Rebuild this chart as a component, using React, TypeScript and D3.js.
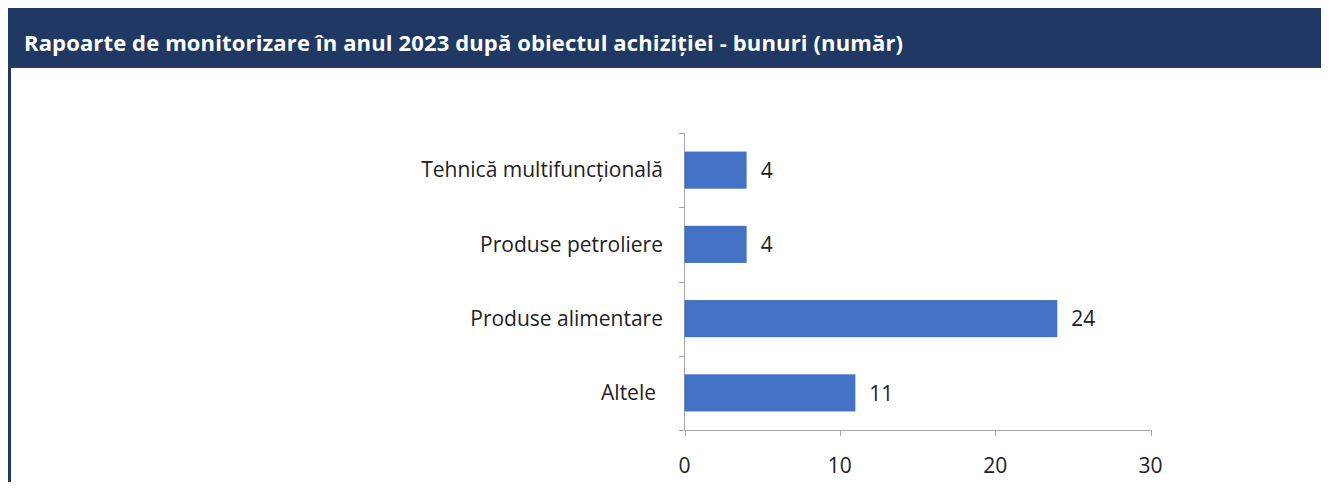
import React from 'react';
import * as d3 from 'd3';

const title = 'Rapoarte de monitorizare în anul 2023 după obiectul achiziției - bunuri (număr)';
const categories = ['Tehnică multifuncțională', 'Produse petroliere', 'Produse alimentare', 'Altele'];
const values = [4, 4, 24, 11];
const xTicks = [0, 10, 20, 30];

const W = 1329;
const H = 490;
const FONT = '"Open Sans", sans-serif';

const App = () => {
    const x = d3.scaleLinear().domain([0, 30]).range([684.5, 1150.5]);
    const y = d3.scaleBand().domain(categories).range([133, 430]).paddingInner(0.5).paddingOuter(0.25);
    const bandEdges = d3.range(categories.length + 1).map(i => 133 + (i * (430 - 133)) / categories.length);

    return (
        <svg width={W} height={H} style={{ display: 'block', margin: -8 }}>
            <rect x={0} y={0} width={W} height={H} fill="#fff" />
            <rect x={7} y={8} width={W - 7} height={60} fill="#203864" />
            <rect x={7} y={66} width={W - 7} height={2} fill="#2b3a5e" />
            <rect x={7} y={68} width={4} height={H - 68} fill="#203864" />
            <text x={24} y={51} fill="#fff" fontFamily={FONT} fontWeight="bold" fontSize={22} textLength={879} lengthAdjust="spacing">
                {title}
            </text>

            {/* y axis */}
            <line x1={684.5} x2={684.5} y1={133} y2={430} stroke="#a6a6a6" />
            {bandEdges.map((e, i) => (
                <line key={i} x1={679} x2={684.5} y1={Math.round(e) + 0.5} y2={Math.round(e) + 0.5} stroke="#a6a6a6" />
            ))}

            {/* x axis */}
            <line x1={684.5} x2={1150.5} y1={430.5} y2={430.5} stroke="#a6a6a6" />
            {xTicks.map(t => (
                <g key={t}>
                    <line x1={Math.round(x(t)) + 0.5} x2={Math.round(x(t)) + 0.5} y1={430} y2={436} stroke="#a6a6a6" />
                    <text x={x(t)} y={473} textAnchor="middle" fontFamily={FONT} fontSize={21} fill="#222">
                        {t}
                    </text>
                </g>
            ))}

            {categories.map((c, i) => {
                const by = y(c) as number;
                const bh = y.bandwidth();
                return (
                    <g key={c}>
                        <rect x={x(0)} y={by} width={x(values[i]) - x(0)} height={bh} fill="#4472c4" />
                        <text x={i === 3 ? 656 : 663} y={by + bh / 2} dy="0.35em" textAnchor="end" fontFamily={FONT} fontSize={21} fill="#222">
                            {c}
                        </text>
                        <text x={x(values[i]) + 14} y={by + bh / 2} dy="0.37em" fontFamily={FONT} fontSize={21} fill="#222">
                            {values[i]}
                        </text>
                    </g>
                );
            })}
        </svg>
    );
};

export default App;
